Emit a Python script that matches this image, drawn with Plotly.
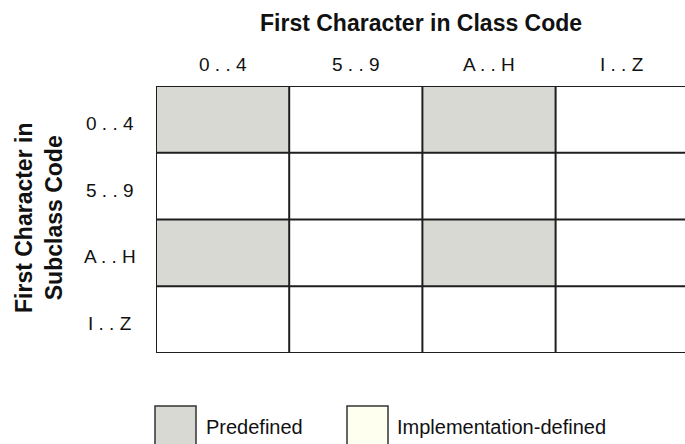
import plotly.graph_objects as go

class_cats = ["0 . . 4", "5 . . 9", "A . . H", "I . . Z"]
subclass_cats = ["0 . . 4", "5 . . 9", "A . . H", "I . . Z"]
# 1 = Predefined, 0 = other (unfilled)
cell_kind = [
    [1, 0, 1, 0],
    [0, 0, 0, 0],
    [1, 0, 1, 0],
    [0, 0, 0, 0],
]
legend_labels = ["Predefined", "Implementation-defined"]
legend_colors = ["#D9D9D4", "#FFFFF0"]

FONT = "Liberation Sans, Arial, Helvetica, sans-serif"
GRAY = "#D9D9D4"
LINE = "#1e1e1e"

xs = list(range(len(class_cats)))
ys = list(range(len(subclass_cats)))

fig = go.Figure()
fig.add_trace(go.Heatmap(
    x=xs, y=ys, z=cell_kind,
    colorscale=[[0, "#FFFFFF"], [1, GRAY]],
    zmin=0, zmax=1, showscale=False, hoverinfo="skip",
))

shapes = []
for i in range(len(class_cats) + 1):
    shapes.append(dict(type="line", xref="x", yref="y",
                       x0=i - 0.5, x1=i - 0.5, y0=-0.5, y1=len(subclass_cats) - 0.5,
                       line=dict(color=LINE, width=2)))
for j in range(len(subclass_cats) + 1):
    shapes.append(dict(type="line", xref="x", yref="y",
                       x0=-0.5, x1=len(class_cats) - 0.5, y0=j - 0.5, y1=j - 0.5,
                       line=dict(color=LINE, width=2)))

# plot-area pixel geometry
L, R, T, B = 156, 685, 86, 353
W, H = R - L, B - T
COLW = 133.2
def px(x):
    return (x - L) / W
def py(y):
    return (B - y) / H

annotations = []
for j, lab in enumerate(subclass_cats):
    annotations.append(dict(text=lab, xref="paper", yref="y", x=px(110), y=j, yshift=-4,
                            xanchor="center", yanchor="middle", showarrow=False,
                            font=dict(family=FONT, size=19, color="#111")))
for i, lab in enumerate(class_cats):
    annotations.append(dict(text=lab, xref="x", yref="paper", x=i, y=py(64),
                            xanchor="center", yanchor="middle", showarrow=False,
                            font=dict(family=FONT, size=19, color="#111")))
annotations.append(dict(text="<b>First Character in Class Code</b>", xref="paper", yref="paper",
                        x=px(421), y=py(23), xanchor="center", yanchor="middle", showarrow=False,
                        font=dict(family=FONT, size=23, color="#111")))
annotations.append(dict(text="<b>First Character in<br>Subclass Code</b>", xref="paper", yref="paper",
                        x=px(39), y=py(218), xanchor="center", yanchor="middle", showarrow=False,
                        textangle=-90, font=dict(family=FONT, size=23, color="#111")))

# legend
leg_box_x = [155, 347]
leg_text_x = [204, 395]
for k, lab in enumerate(legend_labels):
    shapes.append(dict(type="rect", xref="paper", yref="paper",
                       x0=px(leg_box_x[k]), x1=px(leg_box_x[k] + 41),
                       y0=py(406), y1=py(450),
                       fillcolor=legend_colors[k], line=dict(color="#333", width=1.5)))
    annotations.append(dict(text=lab, xref="paper", yref="paper",
                            x=px(leg_text_x[k]), y=py(427), xanchor="left", yanchor="middle",
                            showarrow=False, font=dict(family=FONT, size=20, color="#111")))

fig.update_layout(
    width=685, height=444,
    margin=dict(l=L, r=0, t=T, b=444 - B, pad=0),
    paper_bgcolor="white", plot_bgcolor="white",
    xaxis=dict(range=[-0.5, -0.5 + W / COLW], showticklabels=False, showgrid=False,
               zeroline=False, showline=False, ticks="", fixedrange=True),
    yaxis=dict(range=[len(subclass_cats) - 0.5, -0.5], showticklabels=False, showgrid=False,
               zeroline=False, showline=False, ticks="", fixedrange=True),
    shapes=shapes, annotations=annotations, showlegend=False,
)

fig.write_html("out.html", config={"displayModeBar": False},
               post_script="document.body.style.margin='0';document.body.style.overflow='hidden';")
